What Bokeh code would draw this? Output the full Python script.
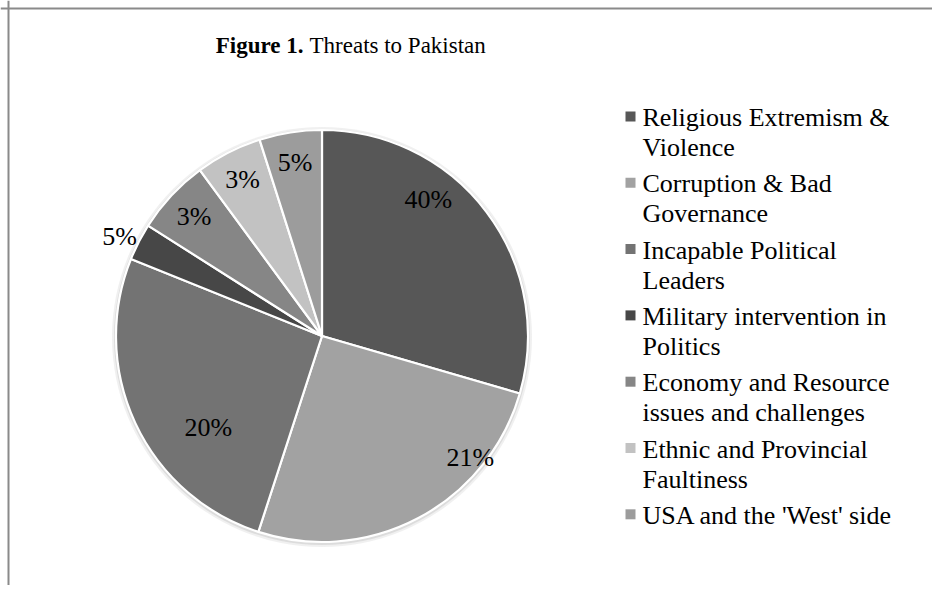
import numpy as np
from bokeh.plotting import figure
from bokeh.models import Range1d, Span
from bokeh.core.properties import value
from bokeh.embed import file_html
from bokeh.resources import INLINE

# ---------------- data ----------------
categories = [
    "Religious Extremism &\nViolence",
    "Corruption & Bad\nGovernance",
    "Incapable Political\nLeaders",
    "Military intervention in\nPolitics",
    "Economy and Resource\nissues and challenges",
    "Ethnic and Provincial\nFaultiness",
    "USA and the 'West' side",
]
shares = [29.5, 25.5, 26.1, 2.9, 5.9, 5.2, 4.9]          # slice sizes as drawn
label_texts = ["40%", "21%", "20%", "5%", "3%", "3%", "5%"]  # data labels as printed
colors = ["#575757", "#a2a2a2", "#737373", "#474747", "#868686", "#c2c2c2", "#9c9c9c"]

# ---------------- layout ----------------
W, H = 932, 585
FONT = "Liberation Serif"
def sx(x):  # picture pixel -> data x
    return x
def sy(y):  # picture pixel -> data y
    return H - y

cx, cy, R = sx(321.5), sy(335.5), 206
label_rf = [0.84, 0.93, 0.71, 1.095, 0.85, 0.85, 0.85]
label_shift = np.radians([15.2, 22.8, 13.9, 1.0, 0.0, 0.0, 0.0])

p = figure(width=W, height=H, output_backend="svg", toolbar_location=None,
           x_range=Range1d(0, W), y_range=Range1d(0, H),
           x_axis_type=None, y_axis_type=None, min_border=0)
p.grid.visible = False
p.outline_line_color = None
p.background_fill_color = "white"
p.border_fill_color = "white"

# frame (left and top edges of chart area)
p.add_layout(Span(location=sx(8), dimension="height", line_color="#8a8a8a", line_width=2))
p.add_layout(Span(location=sy(8), dimension="width", line_color="#8a8a8a", line_width=2))

# soft shadow around pie
p.circle(x=cx, y=cy - 1, radius=R + 4, fill_color="#e6e6e6", fill_alpha=0.6, line_color=None)
p.circle(x=cx, y=cy - 1, radius=R + 2, fill_color="#cfcfcf", fill_alpha=0.6, line_color=None)

vals = np.array(shares, dtype=float)
cum = np.concatenate([[0.0], np.cumsum(vals)])
theta = np.pi / 2 - 2 * np.pi * cum / cum[-1]
p.wedge(x=cx, y=cy, radius=R, start_angle=theta[1:], end_angle=theta[:-1],
        fill_color=colors, line_color="white", line_width=2.2)

mid = (theta[1:] + theta[:-1]) / 2 + label_shift
lx = cx + np.array(label_rf) * R * np.cos(mid)
ly = cy + np.array(label_rf) * R * np.sin(mid)
p.text(x=lx, y=ly, text=label_texts, text_font=value(FONT), text_font_size="26px",
       text_align="center", text_baseline="middle", text_color="black")

# legend
leg_x_marker, leg_x_text = sx(630), sx(642)
first_y, item_step, line_step = 117, 66.3, 30
mx, my, tx, ty, tt = [], [], [], [], []
for i, cat in enumerate(categories):
    y0 = first_y + i * item_step
    mx.append(leg_x_marker)
    my.append(sy(y0 - 1))
    for j, line in enumerate(cat.split("\n")):
        tx.append(leg_x_text)
        ty.append(sy(y0 + j * line_step))
        tt.append(line)
p.scatter(x=mx, y=my, marker="square", size=10, fill_color=colors, line_color=None)
p.text(x=tx, y=ty, text=tt, text_font=value(FONT), text_font_size="26px",
       text_align="left", text_baseline="middle", text_color="black")

# title
p.text(x=[sx(303)], y=[sy(45)], text=["Figure 1."], text_font=value(FONT),
       text_font_size="23px", text_font_style="bold", text_align="right",
       text_baseline="middle", text_color="black")
p.text(x=[sx(309)], y=[sy(45)], text=["Threats to Pakistan"], text_font=value(FONT),
       text_font_size="23px", text_align="left", text_baseline="middle", text_color="black")

open("out.html", "w").write(file_html(p, INLINE))
